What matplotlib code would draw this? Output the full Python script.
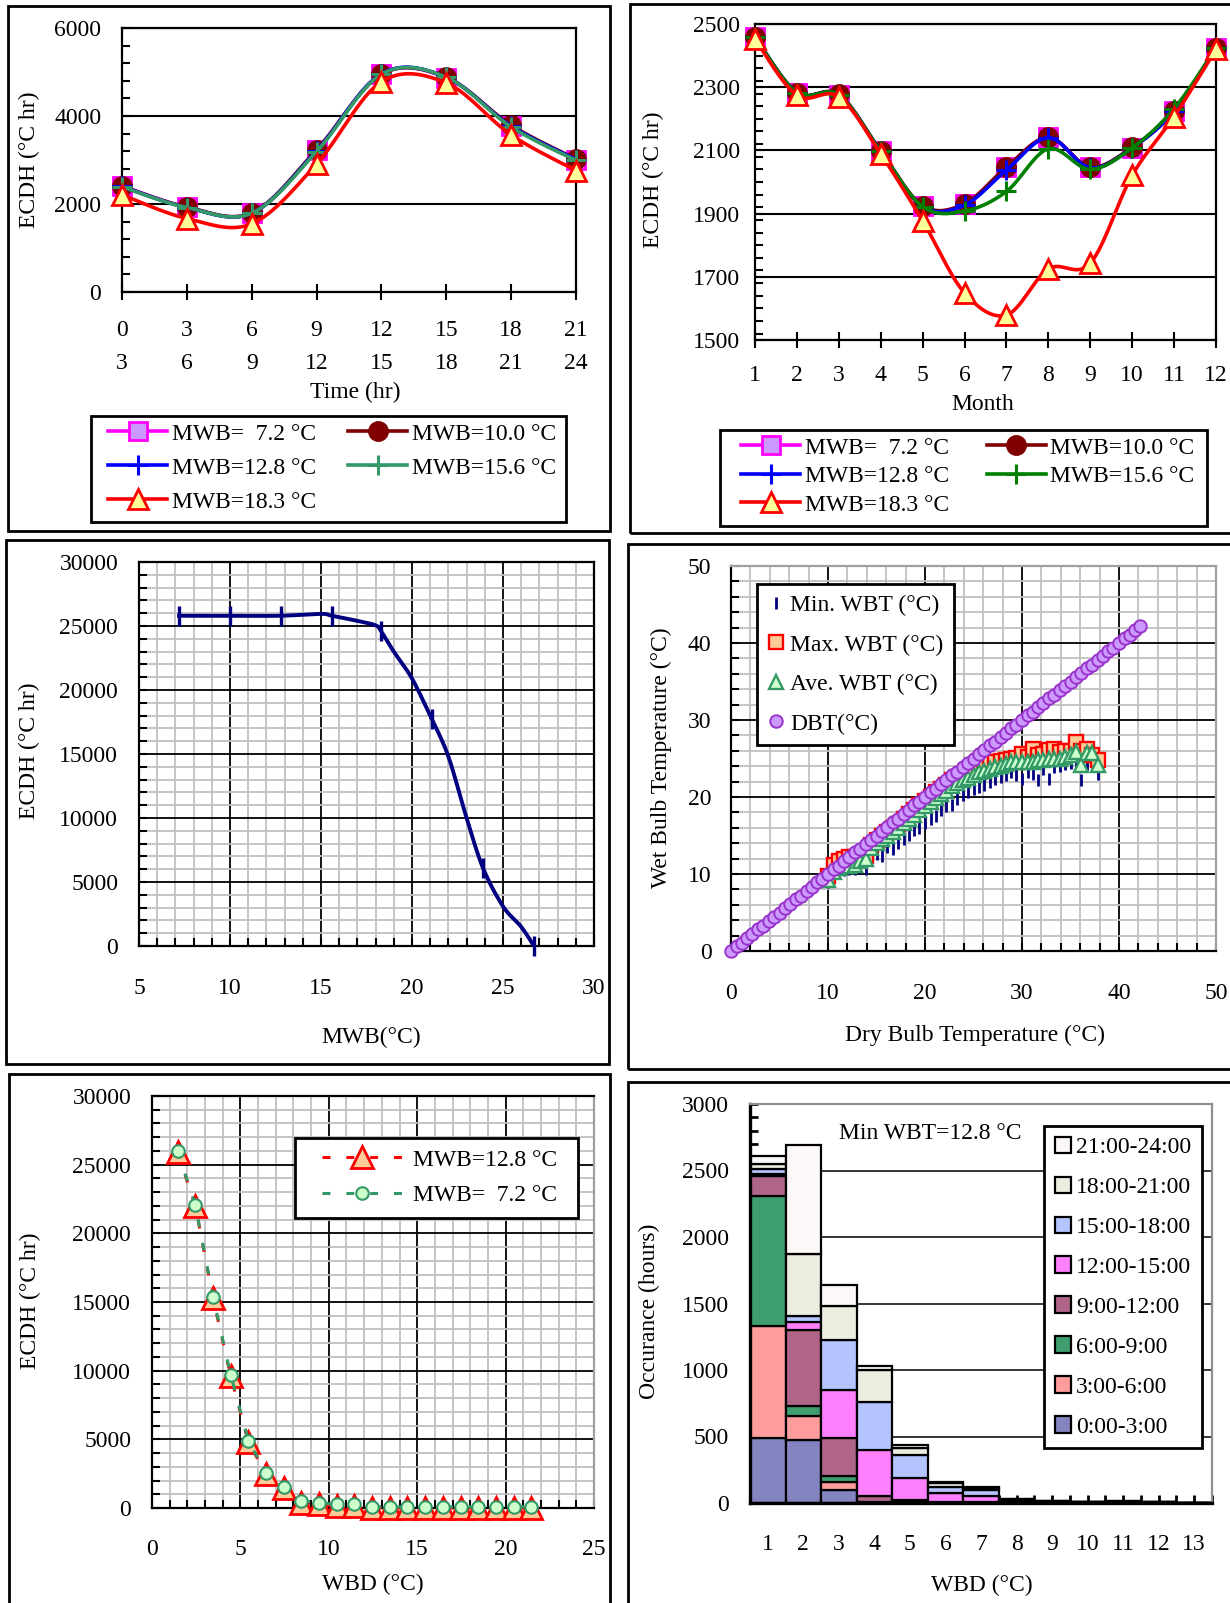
import numpy as np
import matplotlib
matplotlib.use('Agg')
import matplotlib.pyplot as plt
from matplotlib.lines import Line2D
from matplotlib.patches import Rectangle
from matplotlib.ticker import MultipleLocator

# ECDH for each 3 hour block of the day (top left)
hour_from = ['0', '3', '6', '9', '12', '15', '18', '21']
hour_to = ['3', '6', '9', '12', '15', '18', '21', '24']
ecdh_hr_72 = [2410, 1930, 1790, 3220, 4950, 4870, 3780, 3010]
ecdh_hr_100 = [2400, 1930, 1800, 3230, 4950, 4880, 3790, 3020]
ecdh_hr_128 = [2400, 1920, 1790, 3210, 4960, 4880, 3770, 3010]
ecdh_hr_156 = [2390, 1920, 1790, 3190, 4950, 4880, 3750, 2990]
ecdh_hr_183 = [2210, 1670, 1550, 2910, 4780, 4750, 3570, 2760]

# ECDH for each month (top right)
months = [1, 2, 3, 4, 5, 6, 7, 8, 9, 10, 11, 12]
ecdh_mo_72 = [2459, 2282, 2276, 2097, 1924, 1930, 2046, 2141, 2046, 2109, 2224, 2424]
ecdh_mo_100 = [2459, 2283, 2277, 2098, 1925, 1931, 2047, 2141, 2047, 2110, 2225, 2425]
ecdh_mo_128 = [2459, 2282, 2276, 2097, 1922, 1927, 2038, 2140, 2045, 2108, 2224, 2424]
ecdh_mo_156 = [2459, 2282, 2276, 2097, 1922, 1908, 1970, 2105, 2040, 2108, 2232, 2424]
ecdh_mo_183 = [2452, 2274, 2270, 2089, 1877, 1649, 1579, 1725, 1743, 2021, 2207, 2420]

mwb_labels = ['MWB=  7.2 °C', 'MWB=10.0 °C', 'MWB=12.8 °C', 'MWB=15.6 °C', 'MWB=18.3 °C']

# yearly ECDH against MWB (middle left)
mwb_curve = [7.2, 10.0, 12.8, 15.0, 15.6, 17.0, 18.0, 18.3, 19.0, 20.0, 21.0, 21.1,
             22.0, 23.0, 23.9, 25.0, 26.0, 26.7]
ecdh_curve = [25800, 25800, 25800, 25950, 25800, 25400, 25050, 24600, 23000, 20900,
              18000, 17700, 14800, 10000, 6100, 3100, 1500, 0]
mwb_marks = [7.2, 10.0, 12.8, 15.6, 18.3, 21.1, 23.9, 26.7]
ecdh_marks = [25800, 25800, 25800, 25800, 24600, 17700, 6100, 0]

# wet bulb against dry bulb (middle right)
dbt_all = [0.0, 0.6, 1.1, 1.7, 2.2, 2.8, 3.3, 3.9, 4.4, 5.0, 5.6, 6.1, 6.7, 7.2, 7.8,
           8.3, 8.9, 9.4, 10.0, 10.6, 11.1, 11.7, 12.2, 12.8, 13.3, 13.9, 14.4, 15.0,
           15.6, 16.1, 16.7, 17.2, 17.8, 18.3, 18.9, 19.4, 20.0, 20.6, 21.1, 21.7,
           22.2, 22.8, 23.3, 23.9, 24.4, 25.0, 25.6, 26.1, 26.7, 27.2, 27.8, 28.3,
           28.9, 29.4, 30.0, 30.6, 31.1, 31.7, 32.2, 32.8, 33.3, 33.9, 34.4, 35.0,
           35.6, 36.1, 36.7, 37.2, 37.8, 38.3, 38.9, 39.4, 40.0, 40.6, 41.1, 41.7, 42.2]
dbt_wb = [10.0, 10.6, 11.1, 11.7, 12.2, 12.8, 13.3, 13.9, 14.4, 15.0, 15.6, 16.1,
          16.7, 17.2, 17.8, 18.3, 18.9, 19.4, 20.0, 20.6, 21.1, 21.7, 22.2, 22.8,
          23.3, 23.9, 24.4, 25.0, 25.6, 26.1, 26.7, 27.2, 27.8, 28.3, 28.9, 29.4,
          30.0, 30.6, 31.1, 31.7, 32.2, 32.8, 33.3, 33.9, 34.4, 35.0, 35.6, 36.1,
          36.7, 37.2, 37.8]
wbt_min = [9.0, 9.8, 10.2, 10.5, 10.6, 10.6, 10.8, 10.6, 12.0, 12.6, 12.4, 13.5,
           13.3, 14.0, 14.6, 15.1, 15.7, 16.0, 16.6, 17.2, 17.5, 18.3, 18.8, 19.0,
           19.8, 20.2, 20.6, 21.0, 21.3, 21.6, 22.0, 22.4, 22.6, 22.9, 23.2, 22.8,
           22.3, 23.3, 23.0, 22.2, 23.6, 22.4, 23.9, 24.0, 24.3, 24.4, 24.6, 22.2,
           24.2, 24.5, 23.0]
wbt_max = [9.7, 11.2, 11.7, 12.0, 12.2, 12.2, 12.0, 12.4, 13.8, 14.4, 15.0, 15.5,
           16.0, 16.5, 17.2, 17.8, 18.3, 18.9, 19.5, 20.0, 20.6, 21.1, 21.6, 22.2,
           22.6, 23.0, 23.3, 23.6, 23.9, 24.1, 24.4, 24.6, 24.7, 24.8, 25.0, 25.1,
           25.6, 25.2, 26.2, 25.4, 25.6, 26.1, 26.2, 25.8, 26.0, 26.0, 27.2, 26.0,
           26.2, 25.5, 24.8]
wbt_ave = [9.2, 10.2, 10.8, 11.0, 11.1, 11.2, 11.7, 12.0, 13.4, 14.0, 14.6, 15.0,
           15.5, 16.0, 16.6, 17.1, 17.7, 18.3, 18.8, 19.4, 19.9, 20.4, 20.8, 21.4,
           21.8, 22.2, 22.5, 22.8, 23.2, 23.4, 23.7, 23.9, 24.0, 24.3, 24.5, 24.5,
           24.5, 24.6, 24.6, 24.8, 24.8, 24.9, 25.0, 25.0, 25.2, 25.4, 25.9, 24.2,
           25.7, 25.7, 24.2]

# ECDH against wet bulb depression (bottom left)
wbd = [1.45, 2.45, 3.45, 4.45, 5.45, 6.45, 7.45, 8.45, 9.45, 10.45, 11.45, 12.45,
       13.45, 14.45, 15.45, 16.45, 17.45, 18.45, 19.45, 20.45, 21.45]
ecdh_wbd_128 = [25900, 22000, 15300, 9600, 4800, 2480, 1460, 400, 270, 150, 150,
                0, 0, 0, 0, 0, 0, 0, 0, 0, 0]
ecdh_wbd_72 = [26000, 22050, 15400, 9700, 4900, 2550, 1550, 520, 400, 260, 260,
               90, 90, 90, 90, 90, 90, 90, 90, 90, 90]

# hours of occurrence per wet bulb depression bin (bottom right)
wbd_bins = [1, 2, 3, 4, 5, 6, 7, 8, 9, 10, 11, 12, 13]
periods = ['0:00-3:00', '3:00-6:00', '6:00-9:00', '9:00-12:00',
           '12:00-15:00', '15:00-18:00', '18:00-21:00', '21:00-24:00']
hours_by_period = [
    [490, 475, 100, 5, 3, 2, 1, 5, 3, 2, 3, 1, 1],
    [840, 180, 57, 3, 3, 2, 1, 3, 2, 1, 2, 1, 0],
    [980, 75, 48, 3, 3, 2, 1, 3, 2, 1, 2, 1, 0],
    [145, 570, 287, 45, 15, 3, 2, 5, 2, 1, 2, 1, 0],
    [20, 60, 358, 345, 165, 65, 50, 5, 2, 1, 1, 0, 1],
    [38, 45, 375, 357, 170, 50, 42, 5, 2, 1, 1, 1, 0],
    [37, 470, 257, 243, 51, 30, 17, 3, 1, 1, 1, 0, 0],
    [58, 813, 159, 30, 25, 7, 6, 2, 1, 0, 1, 0, 0],
]
period_colors = ['#8484C0', '#FF9C9C', '#3E9E6E', '#B06488',
                 '#FF80FF', '#B4C4FF', '#ECEDE0', '#FCF8F8']

plt.rcParams['font.family'] = ['Liberation Serif', 'DejaVu Serif']
plt.rcParams['font.size'] = 17
plt.rcParams['axes.linewidth'] = 1.6

W, H = 1230, 1603
fig = plt.figure(figsize=(W / 100, H / 100), dpi=100)


def px_axes(left, top, right, bottom):
    return fig.add_axes([left / W, 1 - bottom / H, (right - left) / W, (bottom - top) / H])


def frame(left, top, right, bottom, z=1):
    fig.add_artist(Rectangle((left / W, 1 - bottom / H), (right - left) / W, (bottom - top) / H,
                             transform=fig.transFigure, fill=False, lw=2, ec='black', zorder=z))


def label(x, y, s, rot=0):
    fig.text(x / W, 1 - y / H, s, rotation=rot, ha='center', va='center', fontsize=17)


def boxed_legend(ax, handles, labels, box, anchor, **kw):
    # white box with black border, legend entries placed inside it
    l, t, r, b = box
    ax.add_patch(Rectangle((l / W, 1 - b / H), (r - l) / W, (b - t) / H, transform=fig.transFigure,
                           fc='white', ec='black', lw=2, zorder=20, clip_on=False))
    leg = ax.legend(handles, labels, loc='upper left',
                    bbox_to_anchor=(anchor[0] / W, 1 - anchor[1] / H),
                    bbox_transform=fig.transFigure, frameon=False, borderpad=0,
                    borderaxespad=0, numpoints=1, **kw)
    leg.set_zorder(21)
    return leg


def smooth(xs, ys, n=16):
    # Catmull-Rom curve through the data points (like a smoothed Excel line)
    p = np.column_stack([xs, ys]).astype(float)
    p = np.vstack([p[0], p, p[-1]])
    t = np.linspace(0, 1, n, endpoint=False)[:, None]
    out = []
    for i in range(1, len(p) - 2):
        p0, p1, p2, p3 = p[i - 1], p[i], p[i + 1], p[i + 2]
        out.append(0.5 * (2 * p1 + (-p0 + p2) * t + (2 * p0 - 5 * p1 + 4 * p2 - p3) * t ** 2
                          + (-p0 + 3 * p1 - 3 * p2 + p3) * t ** 3))
    out.append(p[-2][None, :])
    out = np.vstack(out)
    return out[:, 0], out[:, 1]


def mwb_styles(green):
    return [
        dict(color='#FF00FF', marker='s', ms=13, mfc='#CC99FF', mec='#FF00FF', mew=2),
        dict(color='#800000', marker='o', ms=14, mfc='#800000', mec='#800000', mew=1),
        dict(color='#0000FF', marker='+', ms=15, mfc='#0000FF', mec='#0000FF', mew=2.2),
        dict(color=green, marker='+', ms=15, mfc=green, mec=green, mew=2.2),
        dict(color='#FF0000', marker='^', ms=15, mfc='#FFFF99', mec='#FF0000', mew=2),
    ]


def draw_mwb(ax, x, series, styles):
    handles = []
    for k, (ys, st) in enumerate(zip(series, styles)):
        sx, sy = smooth(x, ys)
        ax.plot(sx, sy, color=st['color'], lw=2.6, zorder=3 + 2 * k)
        ax.plot(x, ys, ls='none', marker=st['marker'], ms=st['ms'], mfc=st['mfc'],
                mec=st['mec'], mew=st['mew'], zorder=4 + 2 * k, clip_on=False)
        handles.append(Line2D([0], [0], color=st['color'], lw=2.6, marker=st['marker'],
                              ms=st['ms'], mfc=st['mfc'], mec=st['mec'], mew=st['mew']))
    return handles


def mwb_legend(ax, handles, box, anchor, spacing, colspace):
    order = [0, 2, 4, 1, 3]
    boxed_legend(ax, [handles[i] for i in order], [mwb_labels[i] for i in order], box, anchor,
                 ncol=2, handlelength=2.5, handletextpad=0.2, columnspacing=colspace,
                 labelspacing=spacing)


# ---------------- top left: ECDH against time of day ----------------
frame(8, 6, 610, 531)
ax = px_axes(122, 28, 576, 292)
xi = np.arange(len(hour_from))
h = draw_mwb(ax, xi, [ecdh_hr_72, ecdh_hr_100, ecdh_hr_128, ecdh_hr_156, ecdh_hr_183],
             mwb_styles('#339966'))
ax.set_xlim(0, 7)
ax.set_ylim(0, 6000)
ax.set_yticks([0, 2000, 4000, 6000])
ax.yaxis.set_minor_locator(MultipleLocator(400))
ax.grid(axis='y', which='major', color='black', lw=1.5)
ax.set_xticks(xi)
ax.set_xticklabels([a + '\n' + b for a, b in zip(hour_from, hour_to)], linespacing=1.75)
ax.tick_params(axis='x', direction='inout', length=12, width=1.5, pad=14)
ax.tick_params(axis='y', which='both', direction='in', length=6, width=1.5, pad=15)
mwb_legend(ax, h, (91, 416, 566, 522), (108, 423), 0.53, 1.36)
label(29, 160, 'ECDH (°C hr)', 90)
label(355, 392, 'Time (hr)')

# ---------------- top right: ECDH against month ----------------
frame(630, 4, 1236, 533)
ax = px_axes(755, 24, 1216, 340)
h = draw_mwb(ax, months, [ecdh_mo_72, ecdh_mo_100, ecdh_mo_128, ecdh_mo_156, ecdh_mo_183],
             mwb_styles('#008000'))
ax.set_xlim(1, 12)
ax.set_ylim(1500, 2500)
ax.set_yticks(range(1500, 2501, 200))
ax.yaxis.set_minor_locator(MultipleLocator(40))
ax.grid(axis='y', which='major', color='black', lw=1.5)
ax.set_xticks(months)
ax.tick_params(axis='x', direction='inout', length=12, width=1.5, pad=12)
ax.tick_params(axis='y', which='both', direction='in', length=6, width=1.5, pad=11)
mwb_legend(ax, h, (720, 430, 1207, 526), (741, 437), 0.3, 1.6)
label(653, 180, 'ECDH (°C hr)', 90)
label(983, 405, 'Month')


def grid_panel(ax, xmajor, xminor, ymajor, yminor):
    ax.xaxis.set_major_locator(MultipleLocator(xmajor))
    ax.xaxis.set_minor_locator(MultipleLocator(xminor))
    ax.yaxis.set_major_locator(MultipleLocator(ymajor))
    ax.yaxis.set_minor_locator(MultipleLocator(yminor))
    ax.grid(which='minor', color='#C0C0C0', lw=1.3)
    ax.grid(which='major', color='black', lw=1.3)
    ax.set_axisbelow(True)
    ax.tick_params(which='both', direction='in', length=6, width=1.5)


# ---------------- middle left: ECDH against MWB ----------------
frame(6, 540, 609, 1064)
ax = px_axes(139, 562, 594, 946)
sx, sy = smooth(mwb_curve, ecdh_curve, 8)
ax.plot(sx, sy, color='#000080', lw=2.8, zorder=3)
ax.plot(mwb_marks, ecdh_marks, ls='none', marker='|', ms=15, mew=2.4, color='#000080',
        zorder=4, clip_on=False)
ax.set_xlim(5, 30)
ax.set_ylim(0, 30000)
grid_panel(ax, 5, 1, 5000, 1000)
ax.tick_params(axis='x', pad=23)
ax.tick_params(axis='y', pad=15)
label(29, 751, 'ECDH (°C hr)', 90)
label(371, 1037, 'MWB(°C)')

# ---------------- middle right: WBT against DBT ----------------
frame(628, 544, 1236, 1069)
ax = px_axes(731, 566, 1216, 951)
ax.plot(dbt_wb, wbt_min, ls='none', marker='|', ms=9, mew=2, color='#000080',
        label='Min. WBT (°C)', zorder=3)
ax.plot(dbt_wb, wbt_max, ls='none', marker='s', ms=9.5, mfc='#FFCC99', mec='#FF0000', mew=1.7,
        label='Max. WBT (°C)', zorder=4)
ax.plot(dbt_wb, wbt_ave, ls='none', marker='^', ms=10, mfc='#CCFFCC', mec='#339966', mew=1.7,
        label='Ave. WBT (°C)', zorder=5)
ax.plot(dbt_all, dbt_all, ls='none', marker='o', ms=9, mfc='#CC99FF', mec='#9933CC', mew=1.4,
        label='DBT(°C)', zorder=6, clip_on=False)
ax.set_xlim(0, 50)
ax.set_ylim(0, 50)
grid_panel(ax, 10, 2, 10, 2)
for s in ('top', 'right'):
    ax.spines[s].set_color('#A0A0A0')
ax.tick_params(axis='x', pad=23)
ax.tick_params(axis='y', pad=14)
leg = ax.legend(loc='upper left', bbox_to_anchor=(757 / W, 1 - 584 / H),
                bbox_transform=fig.transFigure, fancybox=False, edgecolor='black',
                framealpha=1, handlelength=0.7, handletextpad=0.25, labelspacing=0.76,
                borderpad=0.45, borderaxespad=0, numpoints=1)
leg.get_frame().set_linewidth(2)
label(661, 758, 'Wet Bulb Temperature (°C)', 90)
label(975, 1035, 'Dry Bulb Temperature (°C)')

# ---------------- bottom left: ECDH against WBD ----------------
frame(9, 1074, 610, 1620)
ax = px_axes(152, 1096, 594, 1508)
l128, = ax.plot(wbd, ecdh_wbd_128, color='#FF0000', lw=2.2, ls=(0, (2.6, 5.2)), marker='^',
                ms=16, mfc='#FFCC99', mec='#FF0000', mew=2, zorder=3, clip_on=False)
l72, = ax.plot(wbd, ecdh_wbd_72, color='#339966', lw=2.2, ls=(0, (2.6, 5.2)), marker='o', ms=9,
               mfc='#CCFFCC', mec='#339966', mew=1.5, zorder=4, clip_on=False)
ax.set_xlim(0, 25)
ax.set_ylim(0, 30000)
grid_panel(ax, 5, 1, 5000, 1000)
ax.spines['right'].set_color('#A0A0A0')
ax.tick_params(axis='x', pad=22)
ax.tick_params(axis='y', pad=15)
boxed_legend(ax, [l128, l72], ['MWB=12.8 °C', 'MWB=  7.2 °C'], (295, 1138, 578, 1218),
             (322, 1149), handlelength=3.4, handletextpad=0.45, labelspacing=0.59)
label(30, 1301, 'ECDH (°C hr)', 90)
label(373, 1584, 'WBD (°C)')

# ---------------- bottom right: occurrence histogram ----------------
frame(628, 1082, 1236, 1620)
ax = px_axes(750, 1104, 1212, 1503)
bottom = np.zeros(len(wbd_bins))
bars = []
for name, vals, col in zip(periods, hours_by_period, period_colors):
    b = ax.bar(wbd_bins, vals, width=1.0, bottom=bottom, color=col, edgecolor='black',
               lw=1.6, label=name, zorder=2)
    bars.append(b)
    bottom += np.array(vals)
ax.set_xlim(0.5, 13.5)
ax.set_ylim(0, 3000)
ax.set_xticks(wbd_bins)
ax.xaxis.set_minor_locator(MultipleLocator(0.5))
ax.yaxis.set_major_locator(MultipleLocator(500))
ax.yaxis.set_minor_locator(MultipleLocator(100))
ax.grid(axis='y', which='major', color='black', lw=1.1, zorder=0)
ax.set_axisbelow(True)
ax.spines['left'].set_linewidth(2.4)
ax.spines['bottom'].set_linewidth(2.4)
for s in ('top', 'right'):
    ax.spines[s].set_color('#909090')
ax.tick_params(which='both', direction='in', length=6, width=2)
ax.tick_params(axis='x', pad=22)
ax.tick_params(axis='y', pad=15)
ax.text(0.39, 0.925, 'Min WBT=12.8 °C', transform=ax.transAxes, ha='center', va='center',
        fontsize=17)
leg = ax.legend(bars[::-1], periods[::-1], loc='upper left',
                bbox_to_anchor=(1044 / W, 1 - 1126 / H), bbox_transform=fig.transFigure,
                fancybox=False, edgecolor='black', framealpha=1, handlelength=0.7,
                handleheight=0.7, handletextpad=0.2, labelspacing=0.78, borderpad=0.45,
                borderaxespad=0)
leg.get_frame().set_linewidth(2)
label(649, 1311, 'Occurance (hours)', 90)
label(982, 1585, 'WBD (°C)')

fig.savefig('out.png', dpi=100)
